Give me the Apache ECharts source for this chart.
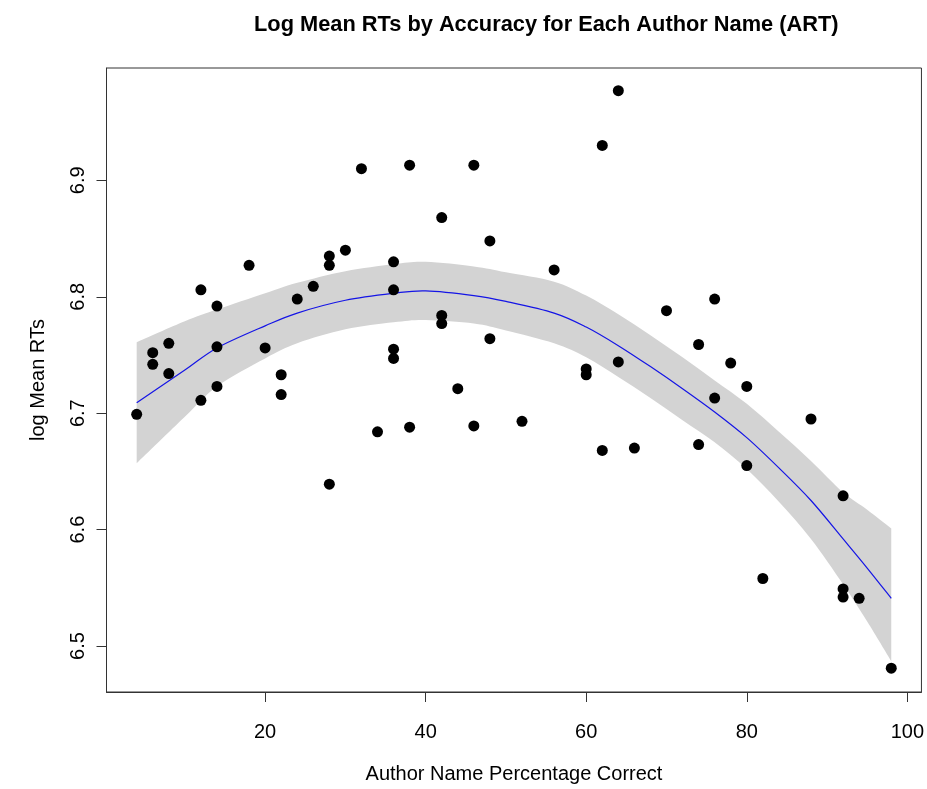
<!DOCTYPE html>
<html>
<head>
<meta charset="utf-8">
<script src="https://cdn.jsdelivr.net/npm/echarts@6/dist/echarts.min.js"></script>
<style>
  html, body { margin: 0; padding: 0; background: #ffffff; }
  #chart { width: 927px; height: 789px; }
</style>
</head>
<body>
<div id="chart"></div>
<script>
// Observed points: author-name percentage correct vs log mean RT
var pctCorrect = [4, 6, 6, 8, 8, 12, 12, 14, 14, 14, 18, 20, 22, 22, 24, 26, 28, 28, 28, 30,
                  32, 34, 36, 36, 36, 36, 38, 38, 42, 42, 42, 44, 46, 46, 48, 48, 52, 56, 60, 60,
                  62, 62, 64, 64, 66, 70, 74, 74, 76, 76, 78, 80, 80, 82, 88, 92, 92, 92, 94, 98];
var logMeanRT = [6.699, 6.752, 6.742, 6.760, 6.734, 6.806, 6.711, 6.792, 6.757, 6.723,
                 6.827, 6.756, 6.733, 6.716, 6.798, 6.809, 6.835, 6.827, 6.639, 6.840,
                 6.910, 6.684, 6.830, 6.806, 6.755, 6.747, 6.913, 6.688, 6.868, 6.784,
                 6.777, 6.721, 6.913, 6.689, 6.848, 6.764, 6.693, 6.823, 6.738, 6.733,
                 6.930, 6.668, 6.977, 6.744, 6.670, 6.788, 6.759, 6.673, 6.798, 6.713,
                 6.743, 6.723, 6.655, 6.558, 6.695, 6.629, 6.549, 6.542, 6.541, 6.481];

// Fitted curve and confidence band
var fitX     = [4, 10, 14, 20, 24, 30, 36, 40, 46, 50, 56, 60, 64, 68, 72, 76, 80, 84, 88, 92, 95, 98];
var fitY     = [6.709, 6.737, 6.756, 6.775, 6.786, 6.797, 6.803, 6.805, 6.801, 6.796, 6.786,
                6.774, 6.758, 6.740, 6.721, 6.701, 6.679, 6.653, 6.625, 6.592, 6.567, 6.541];
var bandLow  = [6.657, 6.697, 6.723, 6.747, 6.760, 6.772, 6.778, 6.780, 6.777, 6.771, 6.760,
                6.748, 6.731, 6.713, 6.694, 6.675, 6.652, 6.624, 6.592, 6.553, 6.521, 6.487];
var bandHigh = [6.761, 6.779, 6.789, 6.803, 6.812, 6.822, 6.828, 6.830, 6.826, 6.821, 6.813,
                6.801, 6.785, 6.767, 6.748, 6.728, 6.708, 6.684, 6.659, 6.632, 6.617, 6.601];

var xTicks = [20, 40, 60, 80, 100];
var yTicks = [6.5, 6.6, 6.7, 6.8, 6.9];

var FONT = "'Liberation Sans', Arial, 'DejaVu Sans', sans-serif";

var points = pctCorrect.map(function (x, i) { return [x, logMeanRT[i]]; });
var fitData = fitX.map(function (x, i) { return [x, fitY[i], bandLow[i], bandHigh[i]]; });

// Catmull-Rom -> cubic Bezier path through pixel points
function splinePath(pts, startCmd) {
  var d = startCmd + pts[0][0] + ' ' + pts[0][1];
  var n = pts.length;
  for (var i = 0; i < n - 1; i++) {
    var p0 = pts[Math.max(i - 1, 0)], p1 = pts[i], p2 = pts[i + 1], p3 = pts[Math.min(i + 2, n - 1)];
    var c1x = p1[0] + (p2[0] - p0[0]) / 6, c1y = p1[1] + (p2[1] - p0[1]) / 6;
    var c2x = p2[0] - (p3[0] - p1[0]) / 6, c2y = p2[1] - (p3[1] - p1[1]) / 6;
    d += ' C' + c1x + ' ' + c1y + ' ' + c2x + ' ' + c2y + ' ' + p2[0] + ' ' + p2[1];
  }
  return d;
}

function renderFit(params, api) {
  if (params.dataIndex !== 0) return null;
  var up = [], lo = [], mid = [], i;
  for (i = 0; i < fitX.length; i++) {
    up.push(api.coord([fitX[i], bandHigh[i]]));
    lo.push(api.coord([fitX[i], bandLow[i]]));
    mid.push(api.coord([fitX[i], fitY[i]]));
  }
  var loRev = lo.slice().reverse();
  var bandPath = splinePath(up, 'M') + ' ' + splinePath(loRev, 'L') + ' Z';
  var linePath = splinePath(mid, 'M');
  return {
    type: 'group',
    children: [
      { type: 'path', shape: { pathData: bandPath }, style: { fill: '#d3d3d3', stroke: null }, silent: true },
      { type: 'path', shape: { pathData: linePath }, style: { fill: null, stroke: '#1414e6', lineWidth: 1.2 }, silent: true }
    ]
  };
}

var chart = echarts.init(document.getElementById('chart'), null, { renderer: 'canvas' });
chart.setOption({
  animation: false,
  backgroundColor: '#ffffff',
  title: {
    text: 'Log Mean RTs by Accuracy for Each Author Name (ART)',
    left: 249,
    top: 9,
    textStyle: { fontFamily: FONT, fontWeight: 'bold', fontSize: 21.8, color: '#000' }
  },
  grid: {
    show: true,
    left: 106.5, right: 4.5, top: 68, bottom: 97,
    borderColor: '#333', borderWidth: 1,
    backgroundColor: 'transparent',
    containLabel: false
  },
  xAxis: {
    type: 'value',
    min: 0.24, max: 101.76,
    name: 'Author Name Percentage Correct',
    nameLocation: 'middle',
    nameGap: 72,
    nameTextStyle: { fontFamily: FONT, fontSize: 20, color: '#000' },
    axisLine: { show: true, onZero: false, lineStyle: { color: '#333', width: 1 } },
    axisTick: { show: true, length: 10, customValues: xTicks, lineStyle: { color: '#333' } },
    axisLabel: { customValues: xTicks, margin: 30, fontFamily: FONT, fontSize: 20, color: '#000' },
    splitLine: { show: false }
  },
  yAxis: {
    type: 'value',
    min: 6.4605, max: 6.9965,
    name: 'log Mean RTs',
    nameLocation: 'middle',
    nameGap: 58,
    nameTextStyle: { fontFamily: FONT, fontSize: 20, color: '#000' },
    axisLine: { show: true, onZero: false, lineStyle: { color: '#333', width: 1 } },
    axisTick: { show: true, length: 10, customValues: yTicks, lineStyle: { color: '#333' } },
    axisLabel: {
      customValues: yTicks, rotate: 90, margin: 18,
      fontFamily: FONT, fontSize: 20, color: '#000',
      formatter: function (v) { return v.toFixed(1); }
    },
    splitLine: { show: false }
  },
  series: [
    {
      name: 'fit', type: 'custom', data: fitData, renderItem: renderFit,
      encode: { x: 0, y: [1, 2, 3] }, silent: true, z: 1, clip: true
    },
    {
      name: 'points', type: 'scatter', data: points, symbol: 'circle', symbolSize: 11,
      itemStyle: { color: '#000', opacity: 1 }, z: 3
    }
  ]
});
</script>
</body>
</html>
